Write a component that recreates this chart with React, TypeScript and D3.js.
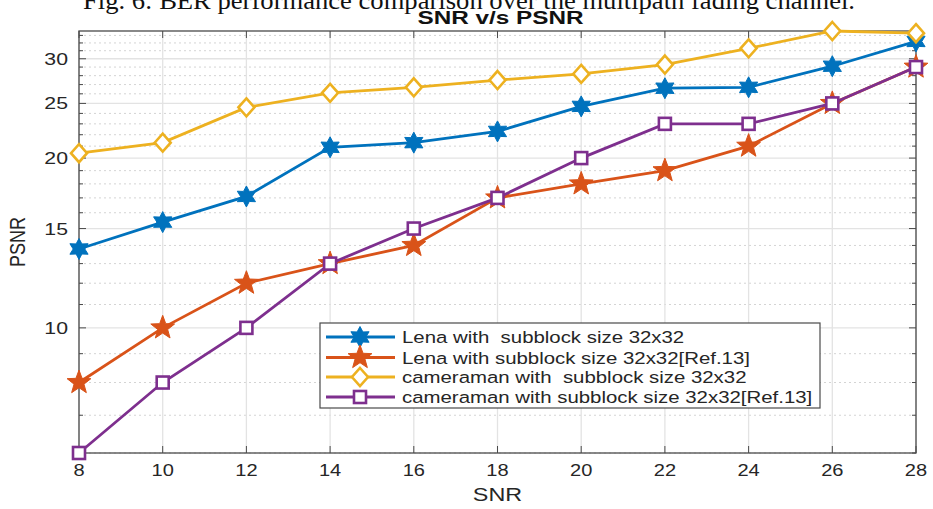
import React, { useEffect, useRef } from 'react';
import * as d3 from 'd3';

// SNR values on the x axis
const snr = [8, 10, 12, 14, 16, 18, 20, 22, 24, 26, 28];

// PSNR series
const lenaOurs = [13.8, 15.4, 17.1, 20.9, 21.3, 22.3, 24.7, 26.6, 26.7, 29.1, 32.2];
const lenaRef = [8.0, 10.0, 12.0, 13.0, 14.0, 17.0, 18.0, 19.0, 21.0, 25.0, 29.0];
const cameraOurs = [20.4, 21.3, 24.6, 26.1, 26.7, 27.5, 28.2, 29.3, 31.3, 33.6, 33.3];
const cameraRef = [6.0, 8.0, 10.0, 13.0, 15.0, 17.0, 20.0, 23.0, 23.0, 25.0, 29.0];

const seriesNames = [
  'Lena with  subblock size 32x32',
  'Lena with subblock size 32x32[Ref.13]',
  'cameraman with  subblock size 32x32',
  'cameraman with subblock size 32x32[Ref.13]',
];
const seriesColors = ['#0072BD', '#D95319', '#EDB120', '#7E2F8E'];
const seriesMarkers = ['hexagram', 'pentagram', 'diamond', 'square'];

const xTicks = [8, 10, 12, 14, 16, 18, 20, 22, 24, 26, 28];
const yMajor = [10, 15, 20, 25, 30];
const yMinor = d3.range(6, 34).filter((v) => !yMajor.includes(v));

const starPath = (points, outer, inner) => {
  const pts = [];
  for (let i = 0; i < points * 2; i++) {
    const r = i % 2 === 0 ? outer : inner;
    const a = (Math.PI * i) / points - Math.PI / 2;
    pts.push([r * Math.cos(a), r * Math.sin(a)]);
  }
  return 'M' + pts.map((p) => p.join(',')).join('L') + 'Z';
};

const drawMarker = (g, kind, color, x, y) => {
  if (kind === 'hexagram') {
    g.append('path')
      .attr('d', starPath(6, 10.5, 5.8))
      .attr('transform', `translate(${x},${y})`)
      .attr('fill', color)
      .attr('stroke', color)
      .attr('stroke-width', 1);
  } else if (kind === 'pentagram') {
    g.append('path')
      .attr('d', starPath(5, 12.5, 5.2))
      .attr('transform', `translate(${x},${y})`)
      .attr('fill', color)
      .attr('stroke', color)
      .attr('stroke-width', 1);
  } else if (kind === 'diamond') {
    g.append('path')
      .attr('d', 'M0,-9L8,0L0,9L-8,0Z')
      .attr('transform', `translate(${x},${y})`)
      .attr('fill', '#fff')
      .attr('stroke', color)
      .attr('stroke-width', 2.6);
  } else {
    g.append('rect')
      .attr('x', x - 6)
      .attr('y', y - 6)
      .attr('width', 12)
      .attr('height', 12)
      .attr('fill', '#fff')
      .attr('stroke', color)
      .attr('stroke-width', 2.6);
  }
};

// text that is a bit wider than the font, as in the (stretched) source image
const wideText = (g, txt, x, y, size, sx, anchor = 'start', weight = 'normal') =>
  g
    .append('text')
    .attr('transform', `translate(${x},${y}) scale(${sx},1)`)
    .attr('text-anchor', anchor)
    .style('font-family', '"Liberation Sans", Arial, sans-serif')
    .style('font-size', `${size}px`)
    .style('font-weight', weight)
    .style('white-space', 'pre')
    .attr('fill', '#262626')
    .text(txt);

const App = () => {
  const ref = useRef(null);

  useEffect(() => {
    const W = 933,
      H = 509;
    const margin = { top: 31, right: 17, bottom: 56, left: 79 };
    const svg = d3.select(ref.current);
    svg.selectAll('*').remove();

    const x = d3.scaleLinear().domain([8, 28]).range([margin.left, W - margin.right]);
    const y = d3.scaleLog().domain([6, 33.6]).range([H - margin.bottom, margin.top]);
    const [x0, x1] = x.range();
    const [yb, yt] = y.range();

    svg.append('rect').attr('width', W).attr('height', H).attr('fill', '#fff');

    // caption of the paper figure, cut at the top
    svg
      .append('text')
      .attr('x', 83)
      .attr('y', 9)
      .attr('textLength', 772)
      .attr('lengthAdjust', 'spacingAndGlyphs')
      .style('font-family', '"Liberation Serif", "Times New Roman", serif')
      .style('font-size', '25px')
      .attr('fill', '#111')
      .text('Fig. 6: BER performance comparison over the multipath fading channel.');

    wideText(svg, 'SNR v/s PSNR', (x0 + x1) / 2 + 3, 24, 18, 1.35, 'middle', 'bold').attr('fill', '#111');

    const grid = svg.append('g');
    // minor y grid (dotted)
    grid
      .selectAll('.ymin')
      .data(yMinor)
      .enter()
      .append('line')
      .attr('x1', x0)
      .attr('x2', x1)
      .attr('y1', (d) => y(d))
      .attr('y2', (d) => y(d))
      .attr('stroke', '#d4d4d4')
      .attr('stroke-width', 1)
      .attr('stroke-dasharray', '2,3');
    // major y grid
    grid
      .selectAll('.ymaj')
      .data(yMajor)
      .enter()
      .append('line')
      .attr('x1', x0)
      .attr('x2', x1)
      .attr('y1', (d) => y(d))
      .attr('y2', (d) => y(d))
      .attr('stroke', '#e3e3e3')
      .attr('stroke-width', 1.3);
    // x grid
    grid
      .selectAll('.xg')
      .data(xTicks)
      .enter()
      .append('line')
      .attr('x1', (d) => x(d))
      .attr('x2', (d) => x(d))
      .attr('y1', yt)
      .attr('y2', yb)
      .attr('stroke', '#e3e3e3')
      .attr('stroke-width', 1.3);

    const axisColor = '#4a4a4a';
    const ax = svg.append('g');
    // ticks, inward on all four sides
    xTicks.forEach((t) => {
      ax.append('line').attr('x1', x(t)).attr('x2', x(t)).attr('y1', yb).attr('y2', yb - 7).attr('stroke', axisColor);
      ax.append('line').attr('x1', x(t)).attr('x2', x(t)).attr('y1', yt).attr('y2', yt + 7).attr('stroke', axisColor);
    });
    yMajor.forEach((t) => {
      ax.append('line').attr('x1', x0).attr('x2', x0 + 7).attr('y1', y(t)).attr('y2', y(t)).attr('stroke', axisColor);
      ax.append('line').attr('x1', x1).attr('x2', x1 - 7).attr('y1', y(t)).attr('y2', y(t)).attr('stroke', axisColor);
    });
    yMinor.forEach((t) => {
      ax.append('line').attr('x1', x0).attr('x2', x0 + 4).attr('y1', y(t)).attr('y2', y(t)).attr('stroke', axisColor);
      ax.append('line').attr('x1', x1).attr('x2', x1 - 4).attr('y1', y(t)).attr('y2', y(t)).attr('stroke', axisColor);
    });
    ax.append('rect')
      .attr('x', x0)
      .attr('y', yt)
      .attr('width', x1 - x0)
      .attr('height', yb - yt)
      .attr('fill', 'none')
      .attr('stroke', axisColor)
      .attr('stroke-width', 1.3);

    xTicks.forEach((t) => wideText(ax, String(t), x(t), yb + 23, 17, 1.18, 'middle'));
    yMajor.forEach((t) => wideText(ax, String(t), x0 - 11, y(t) + 6, 17, 1.25, 'end'));

    wideText(ax, 'SNR', (x0 + x1) / 2, yb + 48, 18, 1.3, 'middle');
    ax.append('text')
      .attr('transform', `translate(25,${(yt + yb) / 2}) scale(1.25,1) rotate(-90)`)
      .attr('text-anchor', 'middle')
      .style('font-family', '"Liberation Sans", Arial, sans-serif')
      .style('font-size', '18px')
      .attr('fill', '#262626')
      .text('PSNR');

    // series
    const allSeries = [lenaOurs, lenaRef, cameraOurs, cameraRef];
    const line = d3
      .line()
      .x((d, i) => x(snr[i]))
      .y((d) => y(d));
    const plot = svg.append('g');
    allSeries.forEach((vals, si) => {
      plot
        .append('path')
        .datum(vals)
        .attr('d', line)
        .attr('fill', 'none')
        .attr('stroke', seriesColors[si])
        .attr('stroke-width', 2.8);
      vals.forEach((v, i) => drawMarker(plot, seriesMarkers[si], seriesColors[si], x(snr[i]), y(v)));
    });

    // legend
    const lg = svg.append('g');
    lg.append('rect')
      .attr('x', 320)
      .attr('y', 323)
      .attr('width', 500)
      .attr('height', 85)
      .attr('fill', '#fff')
      .attr('stroke', axisColor)
      .attr('stroke-width', 1.2);
    const rowY = [337, 357.5, 377, 397];
    seriesNames.forEach((name, i) => {
      lg.append('line')
        .attr('x1', 326)
        .attr('x2', 395)
        .attr('y1', rowY[i])
        .attr('y2', rowY[i])
        .attr('stroke', seriesColors[i])
        .attr('stroke-width', 2.8);
      drawMarker(lg, seriesMarkers[i], seriesColors[i], 360, rowY[i]);
      wideText(lg, name, 402, rowY[i] + 6, 17, 1.2);
    });
  }, []);

  return (
    <svg
      ref={ref}
      width={933}
      height={509}
      style={{ position: 'absolute', left: 0, top: 0 }}
    ></svg>
  );
};

export default App;
